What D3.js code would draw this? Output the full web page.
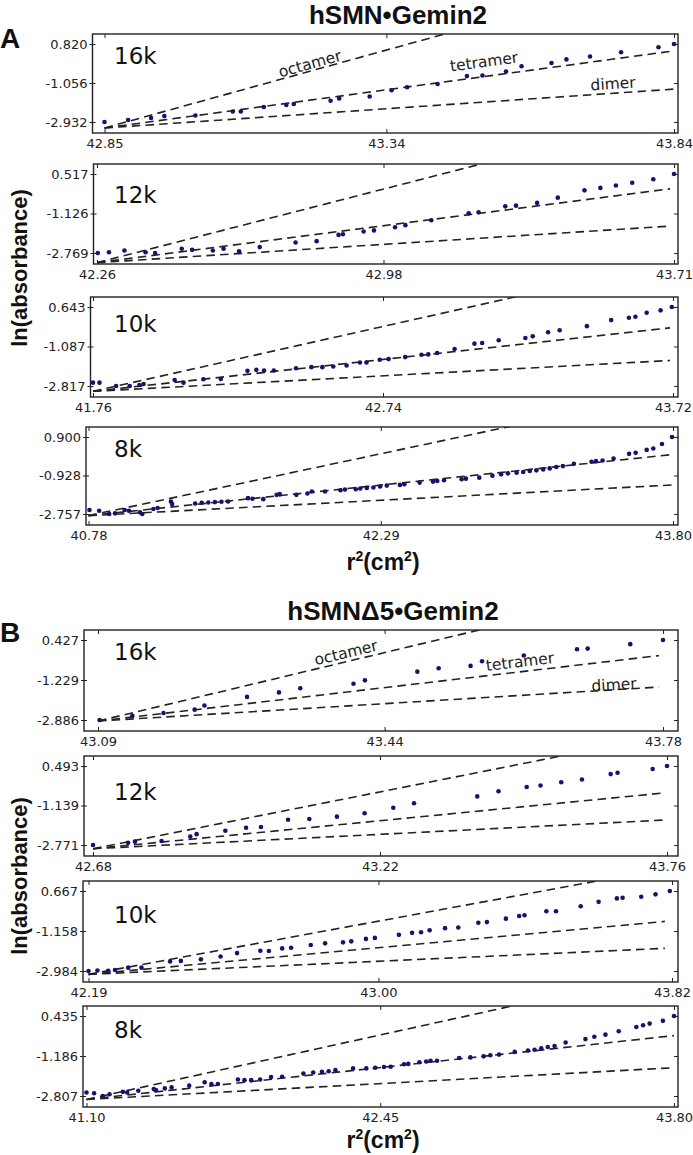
<!DOCTYPE html>
<html><head><meta charset="utf-8">
<script src="https://cdn.jsdelivr.net/npm/d3@7"></script>
<style>body{margin:0;background:#fff}svg{display:block}</style>
</head><body>
<svg id="c" width="693" height="1155"></svg>
<script>
// ---------- Panel A : hSMN•Gemin2 ----------
const a16X = [42.850, 42.891, 42.931, 42.954, 43.008, 43.073, 43.087, 43.127, 43.166, 43.179, 43.243, 43.258, 43.311, 43.349, 43.376, 43.429, 43.480, 43.507, 43.548, 43.575, 43.627, 43.653, 43.694, 43.748, 43.813, 43.840];
const a16Y = [-2.932, -2.838, -2.743, -2.648, -2.617, -2.428, -2.428, -2.207, -2.112, -2.065, -1.907, -1.797, -1.702, -1.403, -1.261, -1.103, -0.725, -0.693, -0.504, -0.252, -0.094, 0.079, 0.221, 0.426, 0.662, 0.820];
const a16XTicks = [42.85, 43.34, 43.84];
const a16YTicks = [0.820, -1.056, -2.932];
const a16Fits = {x: [42.85, 43.84], dimer: [-3.22, -1.35], tetramer: [-3.22, 0.49], octamer: [-3.22, 4.35]};

const a12X = [42.262, 42.290, 42.329, 42.382, 42.406, 42.473, 42.499, 42.551, 42.578, 42.617, 42.669, 42.759, 42.812, 42.867, 42.878, 42.930, 42.956, 43.009, 43.035, 43.100, 43.194, 43.219, 43.286, 43.313, 43.366, 43.418, 43.485, 43.525, 43.564, 43.605, 43.658, 43.710];
const a12Y = [-2.769, -2.740, -2.668, -2.740, -2.769, -2.595, -2.639, -2.668, -2.595, -2.697, -2.523, -2.335, -2.277, -2.016, -1.987, -1.872, -1.828, -1.698, -1.611, -1.408, -1.119, -1.075, -0.829, -0.800, -0.685, -0.467, -0.163, -0.062, 0.039, 0.155, 0.300, 0.517];
const a12XTicks = [42.26, 42.98, 43.71];
const a12YTicks = [0.517, -1.126, -2.769];
const a12Fits = {x: [42.26, 43.70], dimer: [-3.17, -1.65], tetramer: [-3.17, -0.10], octamer: [-3.17, 2.95]};

const a10X = [41.760, 41.782, 41.838, 41.884, 41.917, 41.931, 42.036, 42.066, 42.133, 42.192, 42.282, 42.312, 42.338, 42.371, 42.446, 42.498, 42.535, 42.572, 42.617, 42.662, 42.684, 42.729, 42.759, 42.815, 42.870, 42.893, 42.923, 42.982, 43.049, 43.075, 43.131, 43.221, 43.246, 43.298, 43.337, 43.429, 43.511, 43.571, 43.593, 43.631, 43.678, 43.716];
const a10Y = [-2.670, -2.670, -2.817, -2.817, -2.773, -2.729, -2.552, -2.670, -2.522, -2.508, -2.154, -2.110, -2.140, -2.140, -2.037, -1.992, -1.992, -1.963, -1.919, -1.786, -1.786, -1.669, -1.639, -1.551, -1.448, -1.433, -1.374, -1.197, -0.962, -0.932, -0.815, -0.712, -0.638, -0.461, -0.373, -0.196, 0.069, 0.172, 0.216, 0.393, 0.496, 0.643];
const a10XTicks = [41.76, 42.74, 43.72];
const a10YTicks = [0.643, -1.087, -2.817];
const a10Fits = {x: [41.76, 43.71], dimer: [-3.05, -1.70], tetramer: [-3.05, -0.27], octamer: [-3.05, 2.60]};

const a8X = [40.785, 40.835, 40.887, 40.917, 40.967, 40.989, 41.046, 41.058, 41.115, 41.137, 41.206, 41.212, 41.331, 41.365, 41.399, 41.433, 41.467, 41.501, 41.604, 41.627, 41.683, 41.752, 41.768, 41.854, 41.911, 41.934, 42.002, 42.082, 42.105, 42.161, 42.184, 42.218, 42.252, 42.287, 42.321, 42.389, 42.412, 42.491, 42.560, 42.582, 42.617, 42.708, 42.730, 42.799, 42.867, 42.912, 42.947, 42.992, 43.026, 43.060, 43.094, 43.129, 43.163, 43.197, 43.231, 43.288, 43.379, 43.402, 43.436, 43.493, 43.573, 43.607, 43.664, 43.698, 43.743, 43.795];
const a8Y = [-2.569, -2.600, -2.757, -2.725, -2.569, -2.600, -2.678, -2.757, -2.522, -2.474, -2.161, -2.286, -2.255, -2.223, -2.208, -2.192, -2.176, -2.161, -2.004, -2.035, -2.051, -1.847, -1.815, -1.847, -1.784, -1.690, -1.690, -1.627, -1.596, -1.580, -1.548, -1.517, -1.501, -1.454, -1.407, -1.376, -1.344, -1.266, -1.219, -1.187, -1.156, -1.109, -1.078, -1.030, -0.936, -0.874, -0.826, -0.795, -0.764, -0.717, -0.685, -0.638, -0.591, -0.528, -0.481, -0.371, -0.277, -0.246, -0.214, -0.120, 0.100, 0.147, 0.288, 0.351, 0.570, 0.900];
const a8XTicks = [40.78, 42.29, 43.80];
const a8YTicks = [0.900, -0.928, -2.757];
const a8Fits = {x: [40.78, 43.80], dimer: [-2.835, -1.376], tetramer: [-2.835, 0.07], octamer: [-2.835, 3.04]};

// ---------- Panel B : hSMNΔ5•Gemin2 ----------
const b16X = [43.092, 43.132, 43.170, 43.208, 43.220, 43.272, 43.311, 43.337, 43.402, 43.416, 43.480, 43.506, 43.545, 43.559, 43.610, 43.675, 43.688, 43.740, 43.780];
const b16Y = [-2.886, -2.714, -2.599, -2.457, -2.285, -1.930, -1.742, -1.570, -1.386, -1.245, -0.884, -0.743, -0.645, -0.456, -0.216, 0.041, 0.071, 0.256, 0.427];
const b16XTicks = [43.09, 43.44, 43.78];
const b16YTicks = [0.427, -1.229, -2.886];
const b16Fits = {x: [43.09, 43.775], dimer: [-2.93, -1.52], tetramer: [-2.93, -0.22], octamer: [-2.93, 2.62]};

const b12X = [42.680, 42.746, 42.759, 42.809, 42.863, 42.875, 42.929, 42.968, 42.996, 43.047, 43.087, 43.139, 43.191, 43.245, 43.284, 43.403, 43.443, 43.496, 43.522, 43.561, 43.600, 43.654, 43.667, 43.733, 43.760];
const b12Y = [-2.771, -2.675, -2.633, -2.604, -2.424, -2.323, -2.185, -2.060, -2.030, -1.725, -1.696, -1.599, -1.461, -1.235, -1.043, -0.762, -0.553, -0.373, -0.315, -0.177, -0.064, 0.158, 0.213, 0.367, 0.493];
const b12XTicks = [42.68, 43.22, 43.76];
const b12YTicks = [0.493, -1.139, -2.771];
const b12Fits = {x: [42.68, 43.755], dimer: [-2.926, -1.74], tetramer: [-2.926, -0.62], octamer: [-2.926, 1.75]};

const b10X = [42.190, 42.215, 42.245, 42.264, 42.301, 42.338, 42.418, 42.448, 42.504, 42.559, 42.605, 42.670, 42.694, 42.731, 42.756, 42.811, 42.851, 42.901, 42.924, 42.965, 42.990, 43.057, 43.094, 43.119, 43.143, 43.186, 43.223, 43.279, 43.303, 43.356, 43.393, 43.408, 43.469, 43.496, 43.565, 43.615, 43.666, 43.682, 43.734, 43.774, 43.814];
const b10Y = [-2.984, -2.960, -2.970, -2.938, -2.832, -2.832, -2.545, -2.522, -2.453, -2.323, -2.166, -2.060, -2.074, -1.953, -1.921, -1.796, -1.722, -1.676, -1.630, -1.519, -1.473, -1.334, -1.242, -1.214, -1.122, -1.029, -0.997, -0.780, -0.752, -0.595, -0.475, -0.442, -0.257, -0.257, -0.026, 0.172, 0.330, 0.357, 0.404, 0.514, 0.667];
const b10XTicks = [42.19, 43.00, 43.82];
const b10YTicks = [0.667, -1.158, -2.984];
const b10Fits = {x: [42.19, 43.80], dimer: [-3.137, -1.95], tetramer: [-3.137, -0.72], octamer: [-3.137, 1.69]};

const b8X = [41.100, 41.135, 41.175, 41.206, 41.267, 41.287, 41.338, 41.409, 41.419, 41.460, 41.491, 41.572, 41.643, 41.674, 41.704, 41.796, 41.826, 41.857, 41.898, 41.948, 41.999, 42.097, 42.142, 42.182, 42.213, 42.244, 42.325, 42.386, 42.427, 42.467, 42.498, 42.559, 42.579, 42.630, 42.661, 42.681, 42.711, 42.813, 42.864, 42.925, 42.956, 42.996, 43.068, 43.129, 43.159, 43.190, 43.220, 43.251, 43.302, 43.393, 43.434, 43.485, 43.546, 43.627, 43.658, 43.688, 43.749, 43.800];
const b8Y = [-2.667, -2.695, -2.807, -2.737, -2.639, -2.667, -2.597, -2.527, -2.569, -2.500, -2.458, -2.388, -2.248, -2.318, -2.318, -2.136, -2.164, -2.164, -2.136, -2.038, -2.024, -1.899, -1.857, -1.829, -1.801, -1.759, -1.689, -1.689, -1.661, -1.633, -1.619, -1.521, -1.507, -1.437, -1.409, -1.381, -1.381, -1.270, -1.242, -1.200, -1.158, -1.130, -1.018, -0.962, -0.934, -0.879, -0.823, -0.781, -0.641, -0.501, -0.403, -0.320, -0.180, -0.012, 0.058, 0.128, 0.239, 0.435];
const b8XTicks = [41.10, 42.45, 43.80];
const b8YTicks = [0.435, -1.186, -2.807];
const b8Fits = {x: [41.10, 43.80], dimer: [-2.947, -1.66], tetramer: [-2.947, -0.36], octamer: [-2.947, 2.28]};

const speeds = ["16k", "12k", "10k", "8k"];
const fitNames = ["dimer", "tetramer", "octamer"];

// ---------- layout (pixels): frame [left, top, width, height], x range of first/last tick ----------
const panels = [
  {xs: a16X, ys: a16Y, xt: a16XTicks, yt: a16YTicks, fits: a16Fits, label: speeds[0], frame: [92.5, 34, 585.5, 99], xr: [104.5, 674], labelY: 64, notes: "A"},
  {xs: a12X, ys: a12Y, xt: a12XTicks, yt: a12YTicks, fits: a12Fits, label: speeds[1], frame: [93.5, 164, 584.5, 100], xr: [97, 674], labelY: 203},
  {xs: a10X, ys: a10Y, xt: a10XTicks, yt: a10YTicks, fits: a10Fits, label: speeds[2], frame: [90.5, 297, 587.5, 100], xr: [93, 673], labelY: 332},
  {xs: a8X, ys: a8Y, xt: a8XTicks, yt: a8YTicks, fits: a8Fits, label: speeds[3], frame: [86, 427, 592, 98], xr: [88.5, 673], labelY: 457},
  {xs: b16X, ys: b16Y, xt: b16XTicks, yt: b16YTicks, fits: b16Fits, label: speeds[0], frame: [84, 630, 594, 101], xr: [98, 663], labelY: 660, notes: "B"},
  {xs: b12X, ys: b12Y, xt: b12XTicks, yt: b12YTicks, fits: b12Fits, label: speeds[1], frame: [84, 756, 594, 100], xr: [93, 667], labelY: 800},
  {xs: b10X, ys: b10Y, xt: b10XTicks, yt: b10YTicks, fits: b10Fits, label: speeds[2], frame: [83, 881, 595, 101], xr: [88.5, 672], labelY: 923},
  {xs: b8X, ys: b8Y, xt: b8XTicks, yt: b8YTicks, fits: b8Fits, label: speeds[3], frame: [83, 1006, 595, 101], xr: [86.5, 674], labelY: 1038}
];
const notePos = {
  A: {octamer: [310, 64], tetramer: [484, 62], dimer: [613, 84]},
  B: {octamer: [346, 653], tetramer: [520, 662], dimer: [614, 685]}
};

const MPL = "'DejaVu Sans', 'Bitstream Vera Sans', sans-serif";
const BOLD = "'Liberation Sans', Arial, Helvetica, sans-serif";
const svg = d3.select("#c");
svg.append("rect").attr("width", 693).attr("height", 1155).attr("fill", "#fff");
const defs = svg.append("defs");

panels.forEach((p, i) => {
  const [L, T, W, H] = p.frame;
  const x = d3.scaleLinear().domain([p.xt[0], p.xt[2]]).range(p.xr);
  const y = d3.scaleLinear().domain([p.yt[2], p.yt[0]]).range([T + H - 11, T + 10]);
  const g = svg.append("g");
  defs.append("clipPath").attr("id", "clip" + i).append("rect")
    .attr("x", L).attr("y", T).attr("width", W).attr("height", H);

  const styleAxis = sel => {
    sel.select(".domain").remove();
    sel.attr("font-family", MPL).attr("font-size", 13);
    sel.selectAll("line").attr("stroke", "#222").attr("stroke-width", 1);
    sel.selectAll("text").attr("fill", "#222");
  };
  g.append("g").attr("transform", `translate(0,${T + H})`)
    .call(d3.axisBottom(x).tickValues(p.xt).tickFormat(d => d.toFixed(2)).tickSizeInner(-4).tickSizeOuter(0).tickPadding(6))
    .call(styleAxis);
  g.append("g").attr("transform", `translate(0,${T})`)
    .call(d3.axisTop(x).tickValues(p.xt).tickFormat(() => "").tickSizeInner(-4).tickSizeOuter(0))
    .call(styleAxis);
  // left: outward labelled ticks plus inward ticks
  g.append("g").attr("transform", `translate(${L},0)`)
    .call(d3.axisLeft(y).tickValues(p.yt).tickFormat(d => d.toFixed(3)).tickSizeInner(3).tickSizeOuter(0).tickPadding(2))
    .call(styleAxis);
  g.append("g").attr("transform", `translate(${L},0)`)
    .call(d3.axisRight(y).tickValues(p.yt).tickFormat(() => "").tickSizeInner(3).tickSizeOuter(0))
    .call(styleAxis);
  g.append("g").attr("transform", `translate(${L + W},0)`)
    .call(d3.axisRight(y).tickValues(p.yt).tickFormat(() => "").tickSizeInner(-4).tickSizeOuter(0))
    .call(styleAxis);

  // model lines
  const lg = g.append("g").attr("clip-path", `url(#clip${i})`);
  fitNames.forEach(name => {
    const pts = p.fits.x.map((xv, k) => [x(xv), y(p.fits[name][k])]);
    lg.append("path").attr("d", d3.line()(pts))
      .attr("fill", "none").attr("stroke", "#222").attr("stroke-width", 1.6)
      .attr("stroke-dasharray", "8.5,5.2");
  });

  // data points
  g.append("g").selectAll("circle").data(p.xs.map((xv, k) => [xv, p.ys[k]])).join("circle")
    .attr("cx", d => x(d[0])).attr("cy", d => y(d[1])).attr("r", 2.3).attr("fill", "#14146e");

  // frame
  g.append("rect").attr("x", L).attr("y", T).attr("width", W).attr("height", H)
    .attr("fill", "none").attr("stroke", "#222").attr("stroke-width", 1.4);

  // speed label
  g.append("text").attr("x", 114).attr("y", p.labelY).text(p.label)
    .attr("font-family", MPL).attr("font-size", 23).attr("fill", "#111");

  // line annotations
  if (p.notes) {
    const pos = notePos[p.notes];
    fitNames.forEach(name => {
      const x0 = x(p.fits.x[0]), x1 = x(p.fits.x[1]);
      const y0 = y(p.fits[name][0]), y1 = y(p.fits[name][1]);
      const ang = Math.atan2(y1 - y0, x1 - x0) * 180 / Math.PI;
      const [cx, cy] = pos[name];
      g.append("text").attr("transform", `translate(${cx},${cy}) rotate(${ang})`)
        .attr("text-anchor", "middle").attr("dominant-baseline", "central")
        .attr("font-family", MPL).attr("font-size", 15.5).attr("fill", "#222").text(name);
    });
  }
});

// titles & letters
const bold = sel => sel.attr("font-family", BOLD).attr("font-weight", "bold").attr("fill", "#111");
svg.append("text").attr("x", 398).attr("y", 24).attr("text-anchor", "middle").attr("font-size", 26).call(bold).text("hSMN\u2022Gemin2");
svg.append("text").attr("x", 393).attr("y", 620).attr("text-anchor", "middle").attr("font-size", 26).call(bold).text("hSMN\u03945\u2022Gemin2");
svg.append("text").attr("x", 0).attr("y", 48).attr("font-size", 28).call(bold).text("A");
svg.append("text").attr("x", 0).attr("y", 642).attr("font-size", 28).call(bold).text("B");

// axis titles
[268, 876].forEach(cy => {
  svg.append("text").attr("transform", `translate(27,${cy}) rotate(-90)`).attr("text-anchor", "middle")
    .attr("font-size", 22).call(bold).text("ln(absorbance)");
});
[570, 1148].forEach(by => {
  const t = svg.append("text").attr("x", 383).attr("y", by).attr("text-anchor", "middle").attr("font-size", 23).call(bold);
  t.append("tspan").text("r");
  t.append("tspan").attr("font-size", 14).attr("dy", -9).text("2");
  t.append("tspan").attr("dy", 9).text("(cm");
  t.append("tspan").attr("font-size", 14).attr("dy", -9).text("2");
  t.append("tspan").attr("dy", 9).text(")");
});
</script>
</body></html>
